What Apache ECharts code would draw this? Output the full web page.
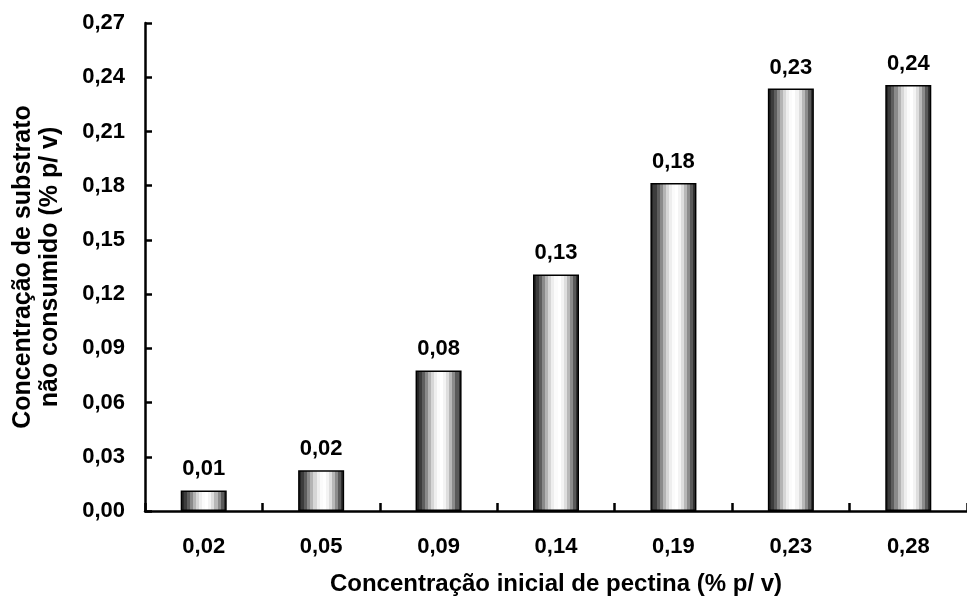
<!DOCTYPE html>
<html>
<head>
<meta charset="utf-8">
<script src="https://cdn.jsdelivr.net/npm/echarts@6/dist/echarts.min.js"></script>
<style>
html,body{margin:0;padding:0;background:#fff;}
#main{width:967px;height:601px;}
</style>
</head>
<body>
<div id="main"></div>
<script>
var categories = ['0,02', '0,05', '0,09', '0,14', '0,19', '0,23', '0,28'];
var values = [0.0114, 0.0225, 0.0778, 0.1309, 0.1815, 0.2337, 0.2357];
var yMin = 0, yMax = 0.27, yStep = 0.03;
var xTitle = 'Concentração inicial de pectina (% p/ v)';
var yTitle = 'Concentração de substrato\nnão consumido (% p/ v)';

function fmt(v) { return v.toFixed(2).replace('.', ','); }

// banded horizontal gradient like the reference cylinders
var bands = ['#262626', '#3c3c3c', '#5e5e5e', '#8a8a8a', '#b4b4b4', '#d6d6d6', '#eeeeee', '#fbfbfb', '#ffffff', '#f4f4f4', '#dedede', '#b8b8b8', '#8c8c8c', '#5a5a5a', '#303030'];
var stops = [];
for (var i = 0; i < bands.length; i++) {
  stops.push({offset: i / bands.length, color: bands[i]});
  stops.push({offset: (i + 1) / bands.length - 0.0001, color: bands[i]});
}
var fill = new echarts.graphic.LinearGradient(0, 0, 1, 0, stops);

var chart = echarts.init(document.getElementById('main'), null, {renderer: 'canvas'});
var font = '"Liberation Sans", Arial, sans-serif';
chart.setOption({
  animation: false,
  backgroundColor: '#fff',
  grid: {left: 145, right: -12, top: 23, bottom: 89, containLabel: false},
  xAxis: {
    type: 'category',
    data: categories,
    boundaryGap: true,
    axisLine: {lineStyle: {color: '#000', width: 2.5}},
    axisTick: {show: true, inside: true, length: 8, lineStyle: {color: '#000', width: 2.5}},
    axisLabel: {color: '#000', fontFamily: font, fontWeight: 'bold', fontSize: 22, margin: 25},
    name: xTitle,
    nameLocation: 'middle',
    nameGap: 61,
    nameTextStyle: {color: '#000', fontFamily: font, fontWeight: 'bold', fontSize: 24}
  },
  yAxis: {
    type: 'value',
    min: yMin, max: yMax, interval: yStep,
    splitLine: {show: false},
    axisLine: {show: true, lineStyle: {color: '#000', width: 2.5}},
    axisTick: {show: true, inside: true, length: 7, lineStyle: {color: '#000', width: 2.5}},
    axisLabel: {color: '#000', fontFamily: font, fontWeight: 'bold', fontSize: 22, margin: 20, formatter: fmt},
    name: yTitle,
    nameLocation: 'middle',
    nameRotate: 90,
    nameGap: 81,
    nameTextStyle: {color: '#000', fontFamily: font, fontWeight: 'bold', fontSize: 25, lineHeight: 27, align: 'center'}
  },
  series: [{
    type: 'bar',
    data: values,
    barWidth: 46,
    itemStyle: {color: fill, borderColor: '#000', borderWidth: 1.5},
    label: {
      show: true, position: 'top', distance: 10,
      color: '#000', fontFamily: font, fontWeight: 'bold', fontSize: 22,
      formatter: function (p) { return fmt(p.value); }
    }
  }]
});
</script>
</body>
</html>
